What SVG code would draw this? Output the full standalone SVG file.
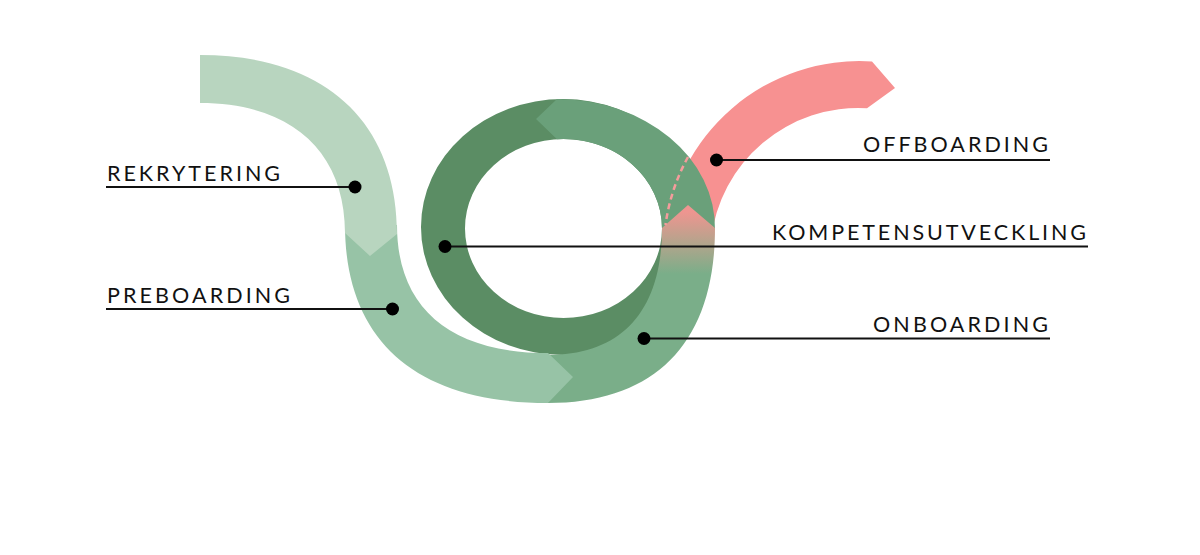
<svg xmlns="http://www.w3.org/2000/svg" width="1200" height="555" viewBox="0 0 1200 555">
  <style>
    .lbl { font-family: Lato, "Liberation Sans", sans-serif; font-size: 21.5px; fill: #111; letter-spacing: 2px; }
    .lead { stroke: #111; stroke-width: 2; fill: none; }
    .dot { fill: #000; }
  </style>
  <defs>
    <linearGradient id="onbGrad" gradientUnits="userSpaceOnUse" x1="0" y1="212" x2="0" y2="274">
      <stop offset="0" stop-color="#ee9590"/>
      <stop offset="0.5" stop-color="#b4a48c"/>
      <stop offset="1" stop-color="#7aae89"/>
    </linearGradient>
  </defs>
  <rect width="1200" height="555" fill="#fff"/>

  <g id="offboarding">
    <path d="M 665 240 A 195 195 0 0 1 872 61.5 L 895 88 L 867 108.3 A 148 148 0 0 0 711 240 Z" fill="#f79191"/>
  </g>

  <g id="kompetensutveckling">
    <path fill-rule="evenodd" fill="#5b8d64" d="M 421 227 A 142 128 0 1 1 705 227 A 142 128 0 1 1 421 227 Z M 465 228.5 A 98.5 89.5 0 1 0 662 228.5 A 98.5 89.5 0 1 0 465 228.5 Z"/>
    <path fill="#6aa07a" d="M 557 99 A 158 129 0 0 1 715 230 L 662 230 L 662 228.5 A 98.5 89.5 0 0 0 557 139.2 L 536 119 Z"/>
  </g>

  <g id="onboarding">
    <path fill="url(#onbGrad)" d="M 715 228 C 715 341.75 656.5 403 548 403 L 548 355 C 622 355 662 310.5 662 228 L 688 205 Z"/>
  </g>

  <g id="preboarding">
    <path fill="#97c3a6" d="M 345 225 C 345 340.7 416 403 548 403 L 573 377 L 548 353 C 450 353 397 308 397 225 Z"/>
  </g>

  <g id="rekrytering">
    <path fill="#b8d5bf" d="M 200 55 C 324 55 397 121 397 234 L 370 256 L 345 233 C 345 151 291 103 200 103 Z"/>
  </g>

  <g id="connectors">
    <path d="M 688 157 A 195 195 0 0 0 665.5 225" fill="none" stroke="#f59c9c" stroke-width="2.5" stroke-dasharray="6 4"/>
    <line class="lead" x1="106" y1="187" x2="355" y2="187"/>
    <line class="lead" x1="106" y1="309" x2="392" y2="309"/>
    <line class="lead" x1="716" y1="160" x2="1050" y2="160"/>
    <line class="lead" x1="445" y1="246.5" x2="1088" y2="246.5"/>
    <line class="lead" x1="644" y1="338.5" x2="1050" y2="338.5"/>
    <circle class="dot" cx="355" cy="187" r="6.5"/>
    <circle class="dot" cx="392.5" cy="309" r="6.5"/>
    <circle class="dot" cx="716.5" cy="160" r="6.5"/>
    <circle class="dot" cx="445" cy="246.5" r="6.5"/>
    <circle class="dot" cx="644" cy="338.5" r="6.5"/>
  </g>

  <g id="labels">
    <text class="lbl" x="107" y="180.5" textLength="175" lengthAdjust="spacing">REKRYTERING</text>
    <text class="lbl" x="107" y="302.5" textLength="185" lengthAdjust="spacing">PREBOARDING</text>
    <text class="lbl" x="863" y="152" textLength="187" lengthAdjust="spacing">OFFBOARDING</text>
    <text class="lbl" x="772" y="240" textLength="316" lengthAdjust="spacing">KOMPETENSUTVECKLING</text>
    <text class="lbl" x="873" y="332" textLength="177" lengthAdjust="spacing">ONBOARDING</text>
  </g>
</svg>
